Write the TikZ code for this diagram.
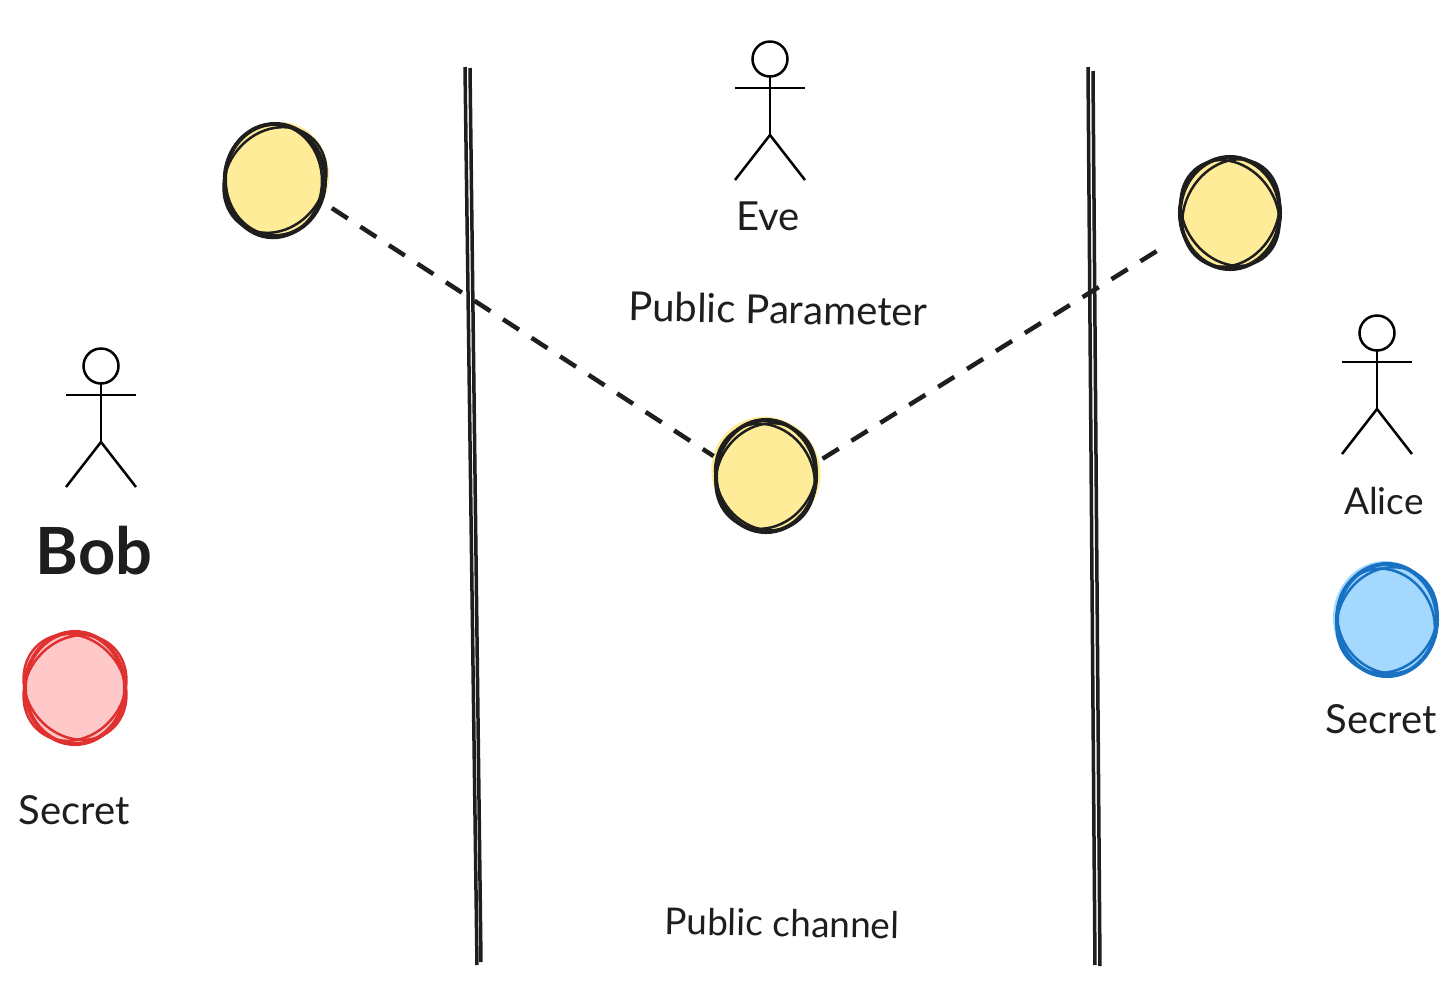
\documentclass[tikz,border=0pt]{standalone}
\usepackage{fontspec}
\setmainfont{Lato}
\usepackage{tikz}
\usetikzlibrary{positioning,calc,shapes.geometric}
\definecolor{sketchYellow}{RGB}{255,236,153}
\definecolor{sketchRed}{RGB}{255,201,201}
\definecolor{sketchBlue}{RGB}{165,216,255}
\definecolor{strokeBlack}{RGB}{30,30,30}
\definecolor{strokeRed}{RGB}{224,49,49}
\definecolor{strokeBlue}{RGB}{25,113,194}
\newcommand{\stickfigure}[2]{
    \draw[figline] (#1,#2) circle (17.5);
    \draw[figline] (#1,#2+17.5) -- (#1,#2+76);
    \draw[figline] (#1-35,#2+29) -- (#1+35,#2+29);
    \draw[figline] (#1-35,#2+121) -- (#1,#2+76) -- (#1+35,#2+121);
}
\begin{document}
\begin{tikzpicture}[
        x=0.01cm, y=-0.01cm,
        figline/.style={line width=0.25mm, black},
        wall/.style={line width=0.35mm, strokeBlack},
        link/.style={line width=0.45mm, strokeBlack, dash pattern=on 1.9mm off 1.5mm},
        share/.style={ellipse, line width=0.4mm, draw=strokeBlack, fill=sketchYellow, minimum width=1cm, minimum height=1.12cm, inner sep=0pt},
        ring/.style={line width=0.25mm, strokeBlack},
        label/.style={font=\fontsize{4mm}{5mm}\selectfont, text=strokeBlack, inner sep=0pt}
    ]
    \useasboundingbox (0,0) rectangle (1456,984);
    % sharing parties
    \stickfigure{770}{59}
    \stickfigure{101}{366}
    \stickfigure{1377}{333}
    % channel walls
    \coordinate (wallAtop) at (465,67);
    \coordinate (wallAbot) at (477,965);
    \coordinate (wallBtop) at (1088,67);
    \coordinate (wallBbot) at (1095,965);
    \draw[wall] (wallAtop) -- (wallAbot);
    \draw[wall] ($(wallAtop)+(5,1)$) -- ($(wallAbot)+(4,-3)$);
    \draw[wall] (wallBtop) -- (wallBbot);
    \draw[wall] ($(wallBtop)+(5,4)$) -- ($(wallBbot)+(5,1)$);
    % colour showing past the pen
    \fill[sketchYellow] (281,176) circle [x radius=48, y radius=54];
    \fill[sketchYellow] (1233,212) circle [x radius=49, y radius=54];
    \fill[sketchYellow] (766,472) circle [x radius=54, y radius=56, rotate=35];
    \fill[sketchBlue] (1385,618) circle [x radius=52, y radius=57];
    % exchanged values
    \node[share] (bobPub) at (275,180) {};
    \node[share] (alicePub) at (1230,213) {};
    \node[share] (param) at (766,476) {};
    \node[share, draw=strokeRed, fill=sketchRed] (bobKey) at (75,688) {};
    \node[share, draw=strokeBlue, fill=sketchBlue] (aliceKey) at (1387,620) {};
    % second pen strokes
    \draw[ring] (bobPub) circle [x radius=56, y radius=48, rotate=50];
    \draw[ring] ($(bobPub)+(-2,1)$) circle [x radius=49, y radius=57];
    \draw[ring] (alicePub) circle [x radius=56, y radius=46, rotate=-55];
    \draw[ring] ($(alicePub)+(1,0)$) circle [x radius=56, y radius=46, rotate=60];
    \draw[ring] (param) circle [x radius=55, y radius=48, rotate=55];
    \draw[ring] ($(param)+(-1,1)$) circle [x radius=55, y radius=48, rotate=-60];
    \draw[ring, strokeRed] (bobKey) circle [x radius=56, y radius=48, rotate=50];
    \draw[ring, strokeRed] ($(bobKey)+(0,-1)$) circle [x radius=56, y radius=48, rotate=-50];
    \draw[ring, strokeBlue] (aliceKey) circle [x radius=55, y radius=48, rotate=55];
    \draw[ring, strokeBlue] ($(aliceKey)+(-1,1)$) circle [x radius=54, y radius=47, rotate=-60];
    \draw[link, shorten <=3pt, shorten >=1pt] (bobPub.-25) -- (param.160);
    \draw[link, shorten <=2pt, shorten >=8pt] (param.15) -- (alicePub.205);
    % labels
    \node[label] (eve) at (768,216) {Eve};
    \node[label, rotate=-1] (pubparam) at (778,309) {Public Parameter};
    \node[label, rotate=-1, font=\fontsize{3.7mm}{5mm}\selectfont] (channel) at (782,923) {Public channel};
    \node[label, font=\fontsize{3.7mm}{5mm}\selectfont] (alice) at (1384,501) {Alice};
    \node[label] (aliceSecret) at (1381,719) {Secret};
    \node[label, font=\fontsize{6.5mm}{9mm}\selectfont\bfseries] (bob) at (94,551) {Bob};
    \node[label] (bobSecret) at (74,810) {Secret};
\end{tikzpicture}
\end{document}
